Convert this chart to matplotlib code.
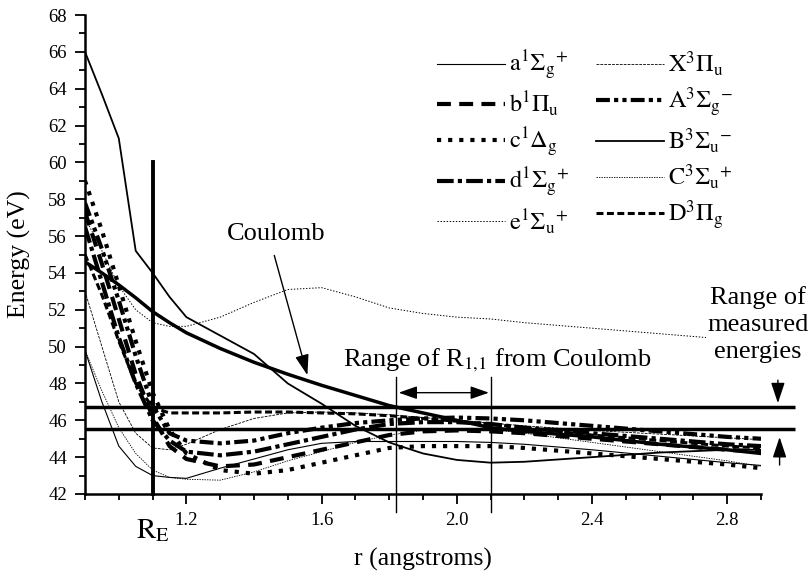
import matplotlib
matplotlib.use("Agg")
import matplotlib.pyplot as plt
from matplotlib.ticker import MultipleLocator, FixedLocator

plt.rcParams['font.family'] = ['Liberation Serif', 'DejaVu Serif']
plt.rcParams['mathtext.fontset'] = 'stix'
plt.rcParams['lines.scale_dashes'] = False

# internuclear separation (angstroms)
r = [0.90, 0.95, 1.00, 1.05, 1.10, 1.15, 1.20, 1.30, 1.40, 1.50, 1.60,
     1.70, 1.80, 1.90, 2.00, 2.10, 2.20, 2.40, 2.60, 2.80, 2.90]

# state energies (eV)
a_1Sg = [49.8, 47.0, 44.6, 43.5, 43.0, 42.9, 42.85, 43.4, 43.9, 44.4, 44.75,
         44.85, 44.85, 44.85, 44.85, 44.8, 44.7, 44.4, 44.05, 43.7, 43.55]
b_1Pu = [57.3, 54.5, 51.5, 48.5, 46.2, 44.6, 43.9, 43.5, 43.6, 44.0, 44.4,
         44.8, 45.2, 45.4, 45.45, 45.4, 45.3, 45.0, 44.7, 44.4, 44.3]
c_1Dg = [59.0, 56.3, 53.3, 50.3, 47.5, 45.5, 44.2, 43.3, 43.1, 43.3, 43.7,
         44.1, 44.5, 44.6, 44.6, 44.6, 44.5, 44.2, 43.9, 43.6, 43.4]
d_1Sg = [56.5, 53.5, 50.5, 48.0, 46.0, 44.9, 44.3, 44.1, 44.3, 44.7, 45.1,
         45.5, 45.8, 45.9, 45.9, 45.8, 45.6, 45.3, 45.0, 44.7, 44.6]
e_1Su = [57.0, 55.2, 53.3, 52.0, 51.3, 51.1, 51.1, 51.6, 52.4, 53.1, 53.2,
         52.7, 52.1, 51.8, 51.6, 51.5, 51.3, 51.0, 50.7, 50.4, 50.3]
X_3Pu = [53.0, 50.0, 47.0, 45.3, 44.5, 44.4, 44.7, 45.5, 46.1, 46.4, 46.45,
         46.4, 46.3, 46.15, 46.0, 45.85, 45.7, 45.45, 45.25, 45.05, 44.95]
A_3Sg = [57.8, 55.3, 52.5, 49.5, 46.8, 45.3, 44.9, 44.75, 44.9, 45.3, 45.6,
         45.85, 46.0, 46.1, 46.15, 46.1, 46.0, 45.7, 45.4, 45.1, 45.0]
B_3Su = [66.0, 63.7, 61.3, 55.2, 54.0, 52.7, 51.6, 50.6, 49.6, 48.0, 46.9,
         45.7, 44.8, 44.2, 43.85, 43.7, 43.75, 44.0, 44.25, 44.4, 44.4]
C_3Su = [49.8, 47.6, 45.6, 44.2, 43.3, 42.9, 42.8, 42.75, 43.2, 43.8, 44.3,
         44.8, 45.2, 45.45, 45.55, 45.5, 45.3, 44.8, 44.3, 43.8, 43.5]
D_3Pg = [55.0, 52.8, 50.3, 48.0, 46.7, 46.4, 46.4, 46.4, 46.45, 46.45, 46.4,
         46.35, 46.25, 46.1, 45.95, 45.8, 45.6, 45.2, 44.9, 44.6, 44.5]
coulomb = [54.6, 54.0, 53.35, 52.65, 51.9, 51.3, 50.75, 49.9, 49.15, 48.5, 47.9,
           47.35, 46.8, 46.4, 46.0, 45.6, 45.4, 45.1, 44.7, 44.4, 44.2]

# reference markers
r_equilibrium = 1.1
measured_energies = [46.7, 45.55]
r11_range = [1.82, 2.1]

fig = plt.figure(figsize=(8.11, 5.74), dpi=100)
ax = fig.add_axes([85/811, 1 - 494/574, 676/811, 479/574])

k = 'black'
ax.plot(r, a_1Sg, color=k, lw=0.8, label=r'$\mathrm{a}^{1}\Sigma_{\mathrm{g}}{}^{+}$')
ax.plot(r, b_1Pu, color=k, lw=3.0, dashes=(10, 6), label=r'$\mathrm{b}^{1}\Pi_{\mathrm{u}}$')
ax.plot(r, c_1Dg, color=k, lw=3.0, dashes=(3, 5), label=r'$\mathrm{c}^{1}\Delta_{\mathrm{g}}$')
ax.plot(r, d_1Sg, color=k, lw=3.0, dashes=(12, 3, 3, 3), label=r'$\mathrm{d}^{1}\Sigma_{\mathrm{g}}{}^{+}$')
ax.plot(r, e_1Su, color=k, lw=0.7, dashes=(1, 1.2), label=r'$\mathrm{e}^{1}\Sigma_{\mathrm{u}}{}^{+}$')
ax.plot(r, X_3Pu, color=k, lw=0.6, dashes=(2, 0.8), label=r'$\mathrm{X}^{3}\Pi_{\mathrm{u}}$')
ax.plot(r, A_3Sg, color=k, lw=3.0, dashes=(10, 3, 3, 3, 3, 3), label=r'$\mathrm{A}^{3}\Sigma_{\mathrm{g}}{}^{-}$')
ax.plot(r, B_3Su, color=k, lw=1.3, label=r'$\mathrm{B}^{3}\Sigma_{\mathrm{u}}{}^{-}$')
ax.plot(r, C_3Su, color=k, lw=0.6, dashes=(1, 0.8), label=r'$\mathrm{C}^{3}\Sigma_{\mathrm{u}}{}^{+}$')
ax.plot(r, D_3Pg, color=k, lw=2.2, dashes=(5, 2.5), label=r'$\mathrm{D}^{3}\Pi_{\mathrm{g}}$')

ax.plot(r, coulomb, color=k, lw=2.5)

# equilibrium separation marker
ax.plot([r_equilibrium, r_equilibrium], [42, 60], color=k, lw=2.8, clip_on=False)
ax.text(r_equilibrium, 39.6, r'$\mathrm{R}_{\mathrm{E}}$', fontsize=21,
        ha='center', va='baseline')

# measured energy band
for yv in measured_energies:
    ax.plot([0.9, 3.0], [yv, yv], color=k, lw=2.5, clip_on=False,
            solid_capstyle='butt')

# range of R_{1,1}
for xv in r11_range:
    ax.plot([xv, xv], [41.0, 48.35], color=k, lw=1.0, clip_on=False)
ax.annotate('', xy=(1.828, 47.5), xytext=(2.095, 47.5),
            arrowprops=dict(arrowstyle='<|-|>,head_length=0.8,head_width=0.28',
                            color=k, lw=1.0, mutation_scale=14,
                            shrinkA=0, shrinkB=0))
ax.text(1.664, 48.93, r'Range of R$_{1{,}1}$ from Coulomb', fontsize=19,
        ha='left', va='baseline')

# Coulomb label and pointer
ax.text(1.466, 56.1, 'Coulomb', fontsize=19, ha='center', va='center')
ax.annotate('', xy=(1.558, 48.45), xytext=(1.46, 54.95),
            arrowprops=dict(arrowstyle='-|>,head_length=0.9,head_width=0.3',
                            color=k, lw=1.0, mutation_scale=14,
                            shrinkA=0, shrinkB=0))

# measured energies label and pointers
ax.text(2.891, 51.2, 'Range of\nmeasured\nenergies', fontsize=19,
        ha='center', va='center', linespacing=1.28,
        bbox=dict(facecolor='white', edgecolor='none', pad=0.5), zorder=5)
ax.annotate('', xy=(2.95, 46.93), xytext=(2.95, 48.18),
            arrowprops=dict(arrowstyle='-|>,head_length=0.9,head_width=0.3',
                            color=k, lw=1.0, mutation_scale=14,
                            shrinkA=0, shrinkB=0), annotation_clip=False)
ax.annotate('', xy=(2.955, 45.09), xytext=(2.955, 43.57),
            arrowprops=dict(arrowstyle='-|>,head_length=0.9,head_width=0.3',
                            color=k, lw=1.0, mutation_scale=14,
                            shrinkA=0, shrinkB=0), annotation_clip=False)

# axes
ax.set_xlim(0.9, 2.9)
ax.set_ylim(42, 68)
ax.xaxis.set_major_locator(FixedLocator([1.2, 1.6, 2.0, 2.4, 2.8]))
ax.xaxis.set_minor_locator(MultipleLocator(0.1))
ax.yaxis.set_major_locator(MultipleLocator(2))
ax.yaxis.set_minor_locator(MultipleLocator(1))
ax.set_xticklabels(['1.2', '1.6', '2.0', '2.4', '2.8'])
for s in ('top', 'right'):
    ax.spines[s].set_visible(False)
for s in ('left', 'bottom'):
    ax.spines[s].set_linewidth(1.8)
ax.tick_params(which='major', direction='out', length=7, width=1.3,
               labelsize=13.5, pad=6)
ax.tick_params(which='minor', direction='out', length=4, width=1.3)

ax.set_xlabel('r (angstroms)', fontsize=18.5)
ax.set_ylabel('Energy (eV)', fontsize=18.5)
ax.xaxis.set_label_coords(0.5, -0.112)
ax.yaxis.set_label_coords(-0.080, 0.5)

ax.legend(loc='upper left', bbox_to_anchor=(437/811, 1 - 49/574),
          bbox_transform=fig.transFigure, ncol=2, frameon=False, fontsize=17.5,
          handlelength=2.8, handletextpad=0.15, columnspacing=1.1,
          labelspacing=0.3, borderpad=0, borderaxespad=0)

fig.savefig('out.png', dpi=100)
